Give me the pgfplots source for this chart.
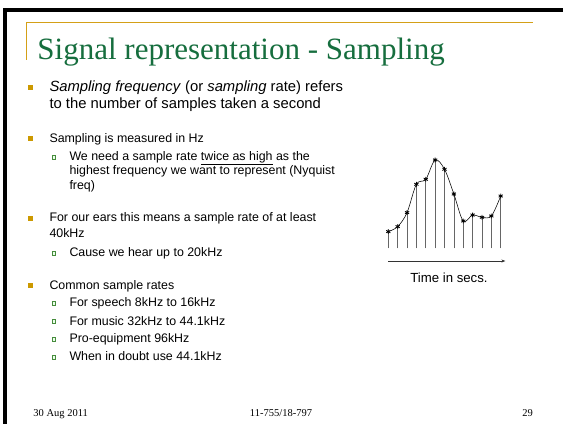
\documentclass[border=0pt]{standalone}
\usepackage{pgfplots}
\pgfplotsset{compat=1.18}
\usepackage{fontspec}
\setmainfont{Liberation Sans}
\newfontfamily\seriffont{Liberation Serif}
\usetikzlibrary{arrows.meta}
\definecolor{titlegreen}{RGB}{22,110,62}
\definecolor{gold}{RGB}{212,160,23}
\definecolor{bulletgold}{RGB}{204,153,0}
\definecolor{subgreen}{RGB}{70,140,60}
\newcommand{\mainbullet}[1]{\fill[bulletgold] (28.3pt,#1pt-2.5pt) rectangle +(5pt,5pt);}
\newcommand{\subbullet}[1]{\filldraw[draw=subgreen,fill=green!8,line width=0.6pt] (51.8pt,#1pt-1.9pt) rectangle +(3.8pt,3.8pt);}
\begin{document}
\begin{tikzpicture}
\useasboundingbox (0pt,0pt) rectangle (563pt,424pt);
\fill[white] (0pt,0pt) rectangle (563pt,424pt);
% borders
\fill[black] (3.3pt,412.3pt) rectangle (563pt,415.7pt);
\fill[black] (3.3pt,0pt) rectangle (6.7pt,415.7pt);
% gold lines
\draw[gold,line width=1.2pt] (26pt,401.3pt) -- (533.3pt,401.3pt);
\draw[gold,line width=1.2pt] (26.6pt,401.9pt) -- (26.6pt,364pt);
% title
\node[anchor=base west,inner sep=0pt,text=titlegreen,font={\seriffont\fontsize{31}{34}\selectfont}] at (37.3pt,364pt) {Signal representation - Sampling};
% body
\begin{scope}[every node/.style={anchor=base west,inner sep=0pt,font={\fontsize{12.4}{15}\selectfont}}]
\mainbullet{336.8}
\node[font={\fontsize{14.8}{17}\selectfont}] at (49.3pt,332.3pt) {\textit{Sampling frequency} (or \textit{sampling} rate) refers};
\node[font={\fontsize{14.8}{17}\selectfont}] at (49.3pt,315.7pt) {to the number of samples taken a second};
\mainbullet{285}
\node at (49.3pt,281.7pt) {Sampling is measured in Hz};
\subbullet{267}
\node at (69.3pt,263.3pt) {We need a sample rate \underline{twice as high} as the};
\node at (69.3pt,249pt) {highest frequency we want to represent (Nyquist};
\node at (69.3pt,234.7pt) {freq)};
\mainbullet{205.5}
\node at (49.3pt,202.3pt) {For our ears this means a sample rate of at least};
\node at (49.3pt,186.7pt) {40kHz};
\subbullet{171}
\node at (69.3pt,167.3pt) {Cause we hear up to 20kHz};
\mainbullet{138.5}
\node at (49.3pt,135pt) {Common sample rates};
\subbullet{121}
\node at (69.3pt,117.3pt) {For speech 8kHz to 16kHz};
\subbullet{102.7}
\node at (69.3pt,99pt) {For music 32kHz to 44.1kHz};
\subbullet{85}
\node at (69.3pt,81.3pt) {Pro-equipment 96kHz};
\subbullet{67}
\node at (69.3pt,63.3pt) {When in doubt use 44.1kHz};
\end{scope}
% footer
\begin{scope}[every node/.style={inner sep=0pt,font={\seriffont\fontsize{10.5}{12}\selectfont}}]
\node[anchor=base west] at (33.3pt,7.3pt) {30 Aug 2011};
\node[anchor=base] at (281pt,7.3pt) {11-755/18-797};
\node[anchor=base east] at (533pt,7.3pt) {29};
\end{scope}
% chart
\begin{axis}[
  x=9.367pt, y=1pt,
  anchor=origin, at={(388.3pt,175.7pt)},
  xmin=0, xmax=12, ymin=-15, ymax=92,
  hide axis, clip=false,
]
\addplot[ycomb, black!60, line width=0.55pt, no marks] coordinates {
(0,16.7) (1,21.7) (2,35.7) (3,64) (4,69) (5,88.3) (6,79) (7,54.3) (8,27.3) (9,33.3) (10,31) (11,32.3) (12,52.3)};
\addplot[smooth, tension=0.55, black, line width=0.55pt, mark=asterisk, mark size=2.4pt, mark options={line width=0.8pt}] coordinates {
(0,16.7) (1,21.7) (2,35.7) (3,64) (4,69) (5,88.3) (6,79) (7,54.3) (8,27.3) (9,33.3) (10,31) (11,32.3) (12,52.3)};
\draw[black!80, line width=0.6pt, -{Stealth[length=4pt,width=3pt]}] (axis cs:0,-12.7) -- (axis cs:12.5,-12.7);
\end{axis}
\node[anchor=base,inner sep=0pt,font={\fontsize{13.2}{15}\selectfont}] at (449pt,141.3pt) {Time in secs.};
\end{tikzpicture}
\end{document}
